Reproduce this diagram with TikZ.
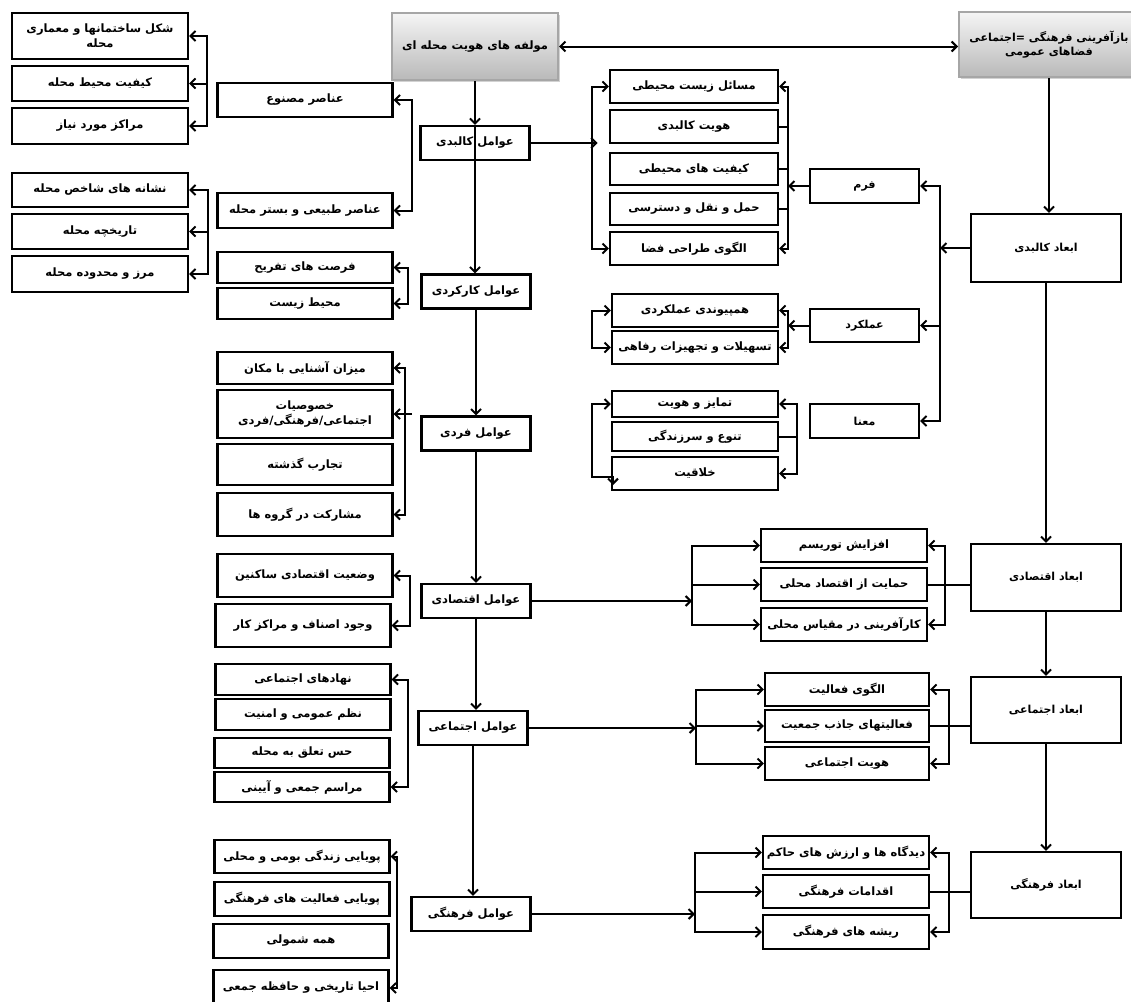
\documentclass[tikz,border=0pt]{standalone}
\usepackage{fontspec}
\usetikzlibrary{arrows.meta,shadows}
\TeXXeTstate=1
\newfontfamily\arabicfont[Script=Arabic]{DejaVu Sans}
\newcommand{\fatxt}[1]{\beginR #1\endR}
\newcommand{\fabold}{\arabicfont\bfseries\fontsize{11.5}{15}\selectfont}
\newcommand{\fasmall}{\arabicfont\bfseries\fontsize{11}{14}\selectfont}
\tikzset{
    fabox/.style={
        rectangle,
        draw, % black frame
        line width=2.2pt,
        align=center,
        inner sep=1pt,
        font=\fabold
    },
    leafnode/.style={fabox, minimum width=176pt},
    itemnode/.style={fabox, minimum width=175pt},
    factornode/.style={fabox, minimum width=109pt, minimum height=34pt},
    subnode/.style={fabox, minimum width=168pt, minimum height=33pt},
    aspectnode/.style={fabox, minimum width=109pt, minimum height=34pt, font=\fasmall},
    outnode/.style={fabox, minimum width=166pt, minimum height=33pt},
    dimnode/.style={fabox, minimum width=150pt, minimum height=67pt, font=\fasmall},
    headnode/.style={
        rectangle,
        draw=gray!70,
        top color=gray!8, % light top
        bottom color=gray!55, % darker bottom
        drop shadow={shadow xshift=2pt, shadow yshift=-2pt, opacity=0.35},
        align=center,
        inner sep=1pt,
        font=\fabold
    }
}
\begin{document}
\begin{tikzpicture}[x=1pt, y=-1pt, line width=2pt,
        >={Straight Barb[length=5pt,width=10pt]}]
    \useasboundingbox (0,0) rectangle (1131,1001);
    \fill[white] (0,0) rectangle (1131,1001);

    % headers
    \node[headnode, minimum width=166pt, minimum height=67pt] (mh) at (475,46.5) {\fatxt{مولفه های هویت محله ای}};
    \node[headnode, minimum width=180pt, minimum height=65pt, font=\fasmall] (baz) at (1049,44.5) {\fatxt{بازآفرینی فرهنگی =اجتماعی}\\\fatxt{فضاهای عمومی}};

    % left-most column
    \node[leafnode, minimum height=46pt] (shekl) at (100,36) {\fatxt{شکل ساختمانها و معماری}\\\fatxt{محله}};
    \node[leafnode, minimum height=35pt] (keyfiat) at (100,83.5) {\fatxt{کیفیت محیط محله}};
    \node[leafnode, minimum height=36pt] (marakez) at (100,126) {\fatxt{مراکز مورد نیاز}};
    \node[leafnode, minimum height=34pt] (neshane) at (100,190) {\fatxt{نشانه های شاخص محله}};
    \node[leafnode, minimum height=35pt] (tarikhche) at (100,231.5) {\fatxt{تاریخچه محله}};
    \node[leafnode, minimum height=36pt] (marz) at (100,274) {\fatxt{مرز و محدوده محله}};

    % second column
    \node[itemnode, minimum height=34pt] (masnu) at (305,100) {\fatxt{عناصر مصنوع}};
    \node[itemnode, minimum height=35pt] (tabiei) at (305,210.5) {\fatxt{عناصر طبیعی و بستر محله}};
    \node[itemnode, minimum height=31pt] (forsat) at (305,267.5) {\fatxt{فرصت های تفریح}};
    \node[itemnode, minimum height=31pt] (mohit) at (305,303.5) {\fatxt{محیط زیست}};
    \node[itemnode, minimum height=32pt] (mizan) at (305,368) {\fatxt{میزان آشنایی با مکان}};
    \node[itemnode, minimum height=48pt] (khosusiat) at (305,414) {\fatxt{خصوصیات}\\\fatxt{اجتماعی/فرهنگی/فردی}};
    \node[itemnode, minimum height=41pt] (tajarob) at (305,464.5) {\fatxt{تجارب گذشته}};
    \node[itemnode, minimum height=43pt] (mosharekat) at (305,514.5) {\fatxt{مشارکت در گروه ها}};
    \node[itemnode, minimum height=43pt] (vaziat) at (305,575.5) {\fatxt{وضعیت اقتصادی ساکنین}};
    \node[itemnode, minimum height=43pt] (vojud) at (303,625.5) {\fatxt{وجود اصناف و مراکز کار}};
    \node[itemnode, minimum height=31pt] (nahad) at (303,679.5) {\fatxt{نهادهای اجتماعی}};
    \node[itemnode, minimum height=31pt] (nazm) at (303,714.5) {\fatxt{نظم عمومی و امنیت}};
    \node[itemnode, minimum height=30pt] (hes) at (302,753) {\fatxt{حس تعلق به محله}};
    \node[itemnode, minimum height=30pt] (marasem) at (302,787) {\fatxt{مراسم جمعی و آیینی}};
    \node[itemnode, minimum height=33pt] (pouyaZ) at (302,856.5) {\fatxt{پویایی زندگی بومی و محلی}};
    \node[itemnode, minimum height=34pt] (pouyaF) at (302,899) {\fatxt{پویایی فعالیت های فرهنگی}};
    \node[itemnode, minimum height=34pt] (hame) at (301,941) {\fatxt{همه شمولی}};
    \node[itemnode, minimum height=36pt] (ehya) at (301,988) {\fatxt{احیا تاریخی و حافظه جمعی}};

    % factors
    \node[factornode] (kal) at (475,143) {\fatxt{عوامل کالبدی}};
    \node[factornode] (kar) at (476,291.5) {\fatxt{عوامل کارکردی}};
    \node[factornode] (fard) at (476,433.5) {\fatxt{عوامل فردی}};
    \node[factornode] (eqt) at (476,601) {\fatxt{عوامل اقتصادی}};
    \node[factornode] (ejt) at (473,728) {\fatxt{عوامل اجتماعی}};
    \node[factornode, minimum width=119pt] (farh) at (471,914) {\fatxt{عوامل فرهنگی}};

    % physical sub-items
    \node[subnode] (masael) at (694,86.5) {\fatxt{مسائل زیست محیطی}};
    \node[subnode] (hoviatK) at (694,126.5) {\fatxt{هویت کالبدی}};
    \node[subnode, minimum height=32pt] (keyfiatM) at (694,169) {\fatxt{کیفیت های محیطی}};
    \node[subnode, minimum height=32pt] (haml) at (694,209) {\fatxt{حمل و نقل و دسترسی}};
    \node[subnode] (olgu) at (694,248.5) {\fatxt{الگوی طراحی فضا}};
    \node[subnode, minimum width=166pt] (hampeyvandi) at (695,310.5) {\fatxt{همپیوندی عملکردی}};
    \node[subnode, minimum width=166pt] (tashilat) at (695,347.5) {\fatxt{تسهیلات و تجهیزات رفاهی}};
    \node[subnode, minimum width=166pt, minimum height=26pt] (tamayoz) at (695,404) {\fatxt{تمایز و هویت}};
    \node[subnode, minimum width=166pt, minimum height=29pt] (tanavo) at (695,436.5) {\fatxt{تنوع و سرزندگی}};
    \node[subnode, minimum width=166pt] (khalaghiat) at (695,473.5) {\fatxt{خلاقیت}};

    % aspects
    \node[aspectnode] (form) at (864.5,186) {\fatxt{فرم}};
    \node[aspectnode, minimum height=33pt] (amalkard) at (864.5,325.5) {\fatxt{عملکرد}};
    \node[aspectnode] (mana) at (864.5,421) {\fatxt{معنا}};

    % outcomes
    \node[outnode] (afzayesh) at (844,545.5) {\fatxt{افزایش توریسم}};
    \node[outnode] (hemayat) at (844,584.5) {\fatxt{حمایت از اقتصاد محلی}};
    \node[outnode] (karafarini) at (844,624.5) {\fatxt{کارآفرینی در مقیاس محلی}};
    \node[outnode, minimum width=164pt] (olguF) at (847,689.5) {\fatxt{الگوی فعالیت}};
    \node[outnode, minimum width=164pt, minimum height=32pt] (faaliatha) at (847,726) {\fatxt{فعالیتهای جاذب جمعیت}};
    \node[outnode, minimum width=164pt] (hoviatE) at (847,763.5) {\fatxt{هویت اجتماعی}};
    \node[outnode] (didgah) at (846,852.5) {\fatxt{دیدگاه ها و ارزش های حاکم}};
    \node[outnode] (eghdamat) at (846,891.5) {\fatxt{اقدامات فرهنگی}};
    \node[outnode, minimum height=34pt] (rishe) at (846,932) {\fatxt{ریشه های فرهنگی}};

    % dimensions
    \node[dimnode, minimum height=68pt] (abKal) at (1046,248) {\fatxt{ابعاد کالبدی}};
    \node[dimnode] (abEqt) at (1046,577.5) {\fatxt{ابعاد اقتصادی}};
    \node[dimnode, minimum height=66pt] (abEjt) at (1046,710) {\fatxt{ابعاد اجتماعی}};
    \node[dimnode, minimum height=66pt] (abFarh) at (1046,885) {\fatxt{ابعاد فرهنگی}};

    % bracket spines
    \coordinate (spA) at (207,0);
    \coordinate (spB) at (208,0);
    \coordinate (spC) at (412,0);
    \coordinate (spD) at (408,0);
    \coordinate (spE) at (405,0);
    \coordinate (spF) at (410,0);
    \coordinate (spH) at (397,0);
    \coordinate (spI) at (592,0);
    \coordinate (spJ) at (788,0);
    \coordinate (spK) at (940,0);
    \coordinate (spN) at (797,0);
    \coordinate (spP) at (692,0);
    \coordinate (spQ) at (945,0);
    \coordinate (spR) at (696,0);
    \coordinate (spS) at (949,0);
    \coordinate (spT) at (695,0);

    % main links
    \draw[<->] (mh.east) -- (mh.east -| baz.west);
    \draw[->] (mh.south) -- (kal.north);
    \draw[->] (kal.north) -- (kal.north |- kar.north);
    \draw[->] (kar.south) -- (fard.north);
    \draw[->] (fard.south) -- (eqt.north);
    \draw[->] (eqt.south) -- (eqt.south |- ejt.north);
    \draw[->] (ejt.south) -- (ejt.south |- farh.north);
    \draw[->] (baz.south) -- (baz.south |- abKal.north);
    \draw[->] (abKal.south) -- (abEqt.north);
    \draw[->] (abEqt.south) -- (abEjt.north);
    \draw[->] (abEjt.south) -- (abFarh.north);

    % left brackets
    \draw[<->] (shekl.east) -- (shekl.east -| spA) |- (marakez.east);
    \draw[->] (keyfiat.east -| spA) -- (keyfiat.east);
    \draw[<->] (neshane.east) -- (neshane.east -| spB) |- (marz.east);
    \draw[->] (tarikhche.east -| spB) -- (tarikhche.east);
    \draw[<->] (masnu.east) -- (masnu.east -| spC) |- (tabiei.east);
    \draw[<->] (forsat.east) -- (forsat.east -| spD) |- (mohit.east);
    \draw[<->] (mizan.east) -- (mizan.east -| spE) |- (mosharekat.east);
    \draw[->] ([xshift=7pt]khosusiat.east -| spE) -- (khosusiat.east);
    \draw[<->] (vaziat.east) -- (vaziat.east -| spF) |- (vojud.east);
    \draw[<->] (nahad.east) -- (nahad.east -| spD) |- (marasem.east);
    \draw[<->] (pouyaZ.east) -- (pouyaZ.east -| spH) |- (ehya.east);

    % physical
    \draw[->] (kal.east) -- ++(67,0);
    \draw[<->] (masael.west) -- (masael.west -| spI) |- (olgu.west);
    \draw[<->] (masael.east) -- (masael.east -| spJ) |- (olgu.east);
    \foreach \n in {hoviatK,keyfiatM,haml}
        \draw (\n.east) -- (\n.east -| spJ);
    \draw[->] (form.west) -- (form.west -| spJ);
    \draw[<->] (form.east) -- (form.east -| spK) |- (mana.east);
    \draw[->] (amalkard.east -| spK) -- (amalkard.east);
    \draw[->] (abKal.west) -- (abKal.west -| spK);
    \draw[->] (amalkard.west) -- (amalkard.west -| spJ);
    \draw[<->] (hampeyvandi.east) -- (hampeyvandi.east -| spJ) |- (tashilat.east);
    \draw[<->] (hampeyvandi.west) -- (hampeyvandi.west -| spI) |- (tashilat.west);
    \draw[<->] (tamayoz.east) -- (tamayoz.east -| spN) |- (khalaghiat.east);
    \draw (tanavo.east) -- (tanavo.east -| spN);
    \draw[<->] (tamayoz.west) -- (tamayoz.west -| spI) -- ++(0,73) -- ++(21,0) -- ++(0,8);

    % economic
    \draw[->] (eqt.east) -- (eqt.east -| spP);
    \draw[<->] (afzayesh.west) -- (afzayesh.west -| spP) |- (karafarini.west);
    \draw[->] (hemayat.west -| spP) -- (hemayat.west);
    \draw[<->] (afzayesh.east) -- (afzayesh.east -| spQ) |- (karafarini.east);
    \draw (hemayat.east) -- (hemayat.east -| abEqt.west);

    % social
    \draw[->] (ejt.east) -- (ejt.east -| spR);
    \draw[<->] (olguF.west) -- (olguF.west -| spR) |- (hoviatE.west);
    \draw[->] (faaliatha.west -| spR) -- (faaliatha.west);
    \draw[<->] (olguF.east) -- (olguF.east -| spS) |- (hoviatE.east);
    \draw (faaliatha.east) -- (faaliatha.east -| abEjt.west);

    % cultural
    \draw[->] (farh.east) -- (farh.east -| spT);
    \draw[<->] (didgah.west) -- (didgah.west -| spT) |- (rishe.west);
    \draw[->] (eghdamat.west -| spT) -- (eghdamat.west);
    \draw[<->] (didgah.east) -- (didgah.east -| spS) |- (rishe.east);
    \draw (eghdamat.east) -- (eghdamat.east -| abFarh.west);
\end{tikzpicture}
\end{document}
